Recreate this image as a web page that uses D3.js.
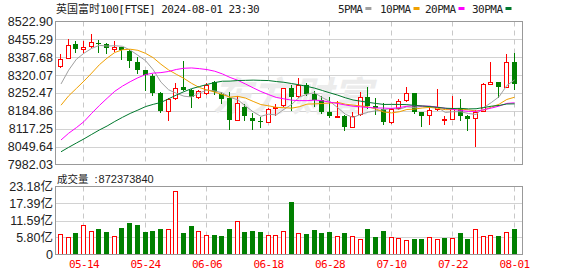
<!DOCTYPE html>
<html>
<head>
<meta charset="utf-8">
<script src="https://cdn.jsdelivr.net/npm/d3@7"></script>
<style>
  body { margin: 0; background: #fff; }
  svg { display: block; }
</style>
</head>
<body>
<div id="chart"></div>
<script>
var width = 578;
var height = 276;

var dates = ["05-09","05-10","05-13","05-14","05-15","05-16","05-17","05-20","05-21","05-22",
  "05-23","05-24","05-28","05-29","05-30","05-31","06-03","06-04","06-05","06-06",
  "06-07","06-10","06-11","06-12","06-13","06-14","06-17","06-18","06-19","06-20",
  "06-21","06-24","06-25","06-26","06-27","06-28","07-01","07-02","07-03","07-04",
  "07-05","07-08","07-09","07-10","07-11","07-12","07-15","07-16","07-17","07-18",
  "07-19","07-22","07-23","07-24","07-25","07-26","07-29","07-30","07-31","08-01"];
var opens = [8355,8386,8436,8418,8431,8442,8439,8419,8425,8413,
  8370,8339,8316,8252,8185,8233,8274,8265,8237,8251,
  8294,8249,8235,8151,8199,8157,8148,8144,8195,8207,
  8270,8241,8282,8248,8226,8179,8164,8164,8124,8173,
  8239,8204,8191,8142,8195,8226,8253,8180,8170,8191,
  8151,8156,8197,8166,8157,8186,8288,8293,8276,8368];
var highs = [8399,8458,8448,8451,8474,8454,8443,8448,8428,8418,
  8388,8341,8325,8257,8235,8292,8373,8267,8264,8290,
  8297,8258,8258,8242,8212,8176,8163,8195,8210,8273,
  8282,8310,8290,8260,8240,8236,8224,8170,8180,8257,
  8276,8233,8215,8195,8230,8274,8254,8182,8199,8266,
  8164,8241,8228,8170,8189,8290,8368,8294,8401,8405];
var lows = [8351,8384,8409,8407,8428,8408,8404,8413,8382,8351,
  8330,8264,8245,8181,8151,8231,8262,8201,8235,8249,
  8250,8215,8116,8150,8151,8117,8122,8142,8170,8205,
  8189,8238,8245,8203,8177,8161,8162,8114,8122,8171,
  8196,8172,8134,8138,8193,8224,8175,8126,8135,8189,
  8136,8155,8150,8111,8053,8185,8286,8239,8274,8267];
var closes = [8381,8434,8418,8428,8446,8437,8421,8425,8416,8375,
  8339,8319,8252,8183,8230,8273,8264,8237,8260,8283,
  8257,8229,8150,8216,8164,8147,8144,8191,8201,8270,
  8239,8282,8249,8226,8179,8164,8167,8124,8166,8239,
  8204,8195,8142,8191,8222,8251,8182,8167,8189,8201,
  8155,8197,8166,8156,8182,8286,8293,8276,8368,8285];
// 成交量, 亿
var volumes = [6.86,5.93,7.2,9.95,7.9,8.68,7.55,6.17,9.0,10.74,
  10.05,7.55,8.0,8.68,8.57,21.7,7.2,9.7,7.9,6.5,
  6.5,6.28,8.68,11.3,7.55,7.9,7.55,6.5,6.5,7.9,
  17.9,7.2,6.96,8.33,7.3,7.65,6.28,7.3,6.28,5.25,
  8.68,5.93,8.0,5.93,5.59,4.9,5.25,5.25,5.93,5.25,
  5.7,5.7,7.3,5.25,8.68,6.28,6.6,6.28,7.65,8.7237384];
// closes before the window, only needed to start the moving averages
var priorCloses = [7931,7932,7953,7935,7937,7975,7911,7943,7934,7961,
  7923,7996,7965,7820,7847,7877,7896,8024,8044,8040,
  8079,8139,8147,8144,8121,8172,8213,8313,8354];

var priceTicks = [8522.90,8455.29,8387.68,8320.07,8252.47,8184.86,8117.25,8049.64,7982.03];
var volumeTicks = [23.18,17.39,11.59,5.80,0];
var volumeTickLabels = ["23.18亿","17.39亿","11.59亿","5.80亿","0"];
var dateTicks = ["05-14","05-24","06-06","06-18","06-28","07-10","07-22","08-01"];
var maPeriods = [5,10,20,30];
var maNames = ["5PMA","10PMA","20PMA","30PMA"];
var maColors = ["#a0a0a0","#f0a000","#ff00ff","#00782d"];

var up_color = "#ff0000";
var down_color = "#008000";
var monoFont = "'DejaVu Sans Mono', monospace";
var cjkFont = "'Noto Sans CJK SC', sans-serif";
var numFont = "'Liberation Sans', Arial, sans-serif";

var left = 55.5, right = 522.5;
var mainTop = 21.5, mainBottom = 164.5;
var volTop = 186.5, volBottom = 254.5;

var data = dates.map(function(d, i){
  return {
    date: d, open: opens[i], high: highs[i], low: lows[i], close: closes[i],
    volume: volumes[i],
    prev: i ? closes[i-1] : priorCloses[priorCloses.length-1]
  };
});

var x = d3.scalePoint().domain(dates).range([60.5, 514]);
var y = d3.scaleLinear().domain([7982.03, 8522.90]).range([mainBottom, mainTop]);
var yv = d3.scaleLinear().domain([0, 23.18]).range([volBottom, volTop]);
var px = function(d){ return Math.floor(x(d)); };

var svg = d3.select("#chart").append("svg")
  .attr("width", width)
  .attr("height", height);

// grid
var grid = svg.append("g");
grid.selectAll(".hgrid").data(priceTicks.slice(1, -1)).enter().append("line")
  .attr("x1", left).attr("x2", right)
  .attr("y1", function(d){ return Math.round(y(d)) + 0.5; })
  .attr("y2", function(d){ return Math.round(y(d)) + 0.5; })
  .attr("stroke", "#d2d2d2");
grid.selectAll(".vhgrid").data(volumeTicks.slice(1, -1)).enter().append("line")
  .attr("x1", left).attr("x2", right)
  .attr("y1", function(d){ return Math.round(yv(d)) + 0.5; })
  .attr("y2", function(d){ return Math.round(yv(d)) + 0.5; })
  .attr("stroke", "#d2d2d2");
[[mainTop, mainBottom], [volTop, volBottom]].forEach(function(p){
  grid.append("g").selectAll("line").data(dateTicks).enter().append("line")
    .attr("x1", function(d){ return px(d) + 0.5; })
    .attr("x2", function(d){ return px(d) + 0.5; })
    .attr("y1", p[0]).attr("y2", p[1])
    .attr("stroke", "#c8c8c8")
    .attr("stroke-dasharray", "5,4");
});

// watermark
svg.append("text")
  .attr("x", 292).attr("y", 111)
  .attr("text-anchor", "middle")
  .attr("font-family", cjkFont)
  .attr("font-size", 40)
  .attr("font-weight", "bold")
  .attr("font-style", "italic")
  .attr("fill", "#ececec")
  .text("东方财富");

// candles
var candles = svg.append("g").selectAll("g")
  .data(data).enter().append("g");
candles.append("line")
  .attr("x1", function(d){ return px(d.date) + 0.5; })
  .attr("x2", function(d){ return px(d.date) + 0.5; })
  .attr("y1", function(d){ return Math.round(y(d.high)); })
  .attr("y2", function(d){ return Math.round(y(d.low)) + 1; })
  .attr("stroke", function(d){ return d.close >= d.open ? up_color : down_color; });
candles.append("rect")
  .attr("x", function(d){ return d.close >= d.open ? px(d.date) - 1.5 : px(d.date) - 2; })
  .attr("y", function(d){
    var t = Math.round(y(Math.max(d.open, d.close)));
    return d.close >= d.open ? t + 0.5 : t;
  })
  .attr("width", function(d){ return d.close >= d.open ? 4 : 5; })
  .attr("height", function(d){
    var h = Math.round(y(Math.min(d.open, d.close))) - Math.round(y(Math.max(d.open, d.close)));
    return Math.max(1, h);
  })
  .attr("fill", function(d){ return d.close >= d.open ? "#fff" : down_color; })
  .attr("stroke", function(d){ return d.close >= d.open ? up_color : "none"; });

// moving averages
var allCloses = priorCloses.concat(closes);
var line = d3.line()
  .x(function(d){ return x(d.date) + 0.5; })
  .y(function(d){ return y(d.value); });
maPeriods.forEach(function(p, k){
  var pts = data.map(function(d, i){
    var end = priorCloses.length + i + 1;
    return {date: d.date, value: d3.mean(allCloses.slice(end - p, end))};
  });
  svg.append("path")
    .attr("d", line(pts))
    .attr("fill", "none")
    .attr("stroke", maColors[k])
    .attr("stroke-width", 1);
});

// volume bars
svg.append("g").selectAll("rect")
  .data(data).enter().append("rect")
  .attr("x", function(d){ return d.close >= d.prev ? px(d.date) - 1.5 : px(d.date) - 2; })
  .attr("y", function(d){
    var t = Math.round(yv(d.volume));
    return d.close >= d.prev ? t + 0.5 : t;
  })
  .attr("width", function(d){ return d.close >= d.prev ? 4 : 5; })
  .attr("height", function(d){
    var t = Math.round(yv(d.volume));
    return d.close >= d.prev ? volBottom - t - 0.5 : volBottom + 0.5 - t;
  })
  .attr("fill", function(d){ return d.close >= d.prev ? "#fff" : down_color; })
  .attr("stroke", function(d){ return d.close >= d.prev ? up_color : "none"; });

// frames
[[mainTop, mainBottom], [volTop, volBottom]].forEach(function(p){
  svg.append("rect")
    .attr("x", left).attr("y", p[0])
    .attr("width", right - left).attr("height", p[1] - p[0])
    .attr("fill", "none")
    .attr("stroke", "#999");
});

// axes
var yAxis = svg.append("g")
  .attr("transform", "translate(" + (left - 0.5) + ",0)")
  .call(d3.axisLeft(y).tickValues(priceTicks).tickFormat(d3.format(".2f")).tickSize(0).tickPadding(2));
var vAxis = svg.append("g")
  .attr("transform", "translate(" + (left - 0.5) + ",0)")
  .call(d3.axisLeft(yv).tickValues(volumeTicks)
    .tickFormat(function(d, i){ return volumeTickLabels[i]; })
    .tickSize(0).tickPadding(2));
[yAxis, vAxis].forEach(function(a){
  a.select(".domain").remove();
  a.selectAll("text")
    .attr("font-family", numFont + ", " + cjkFont)
    .attr("font-size", 12.5)
    .attr("fill", "#222");
});

var xAxis = svg.append("g")
  .attr("transform", "translate(0," + volBottom + ")")
  .call(d3.axisBottom(x).tickValues(dateTicks).tickSize(0).tickPadding(6));
xAxis.select(".domain").remove();
xAxis.selectAll("text")
  .attr("font-family", monoFont)
  .attr("font-size", 11)
  .attr("letter-spacing", -0.6)
  .attr("fill", up_color);

// title
var title = svg.append("text")
  .attr("x", 56).attr("y", 12.5)
  .attr("fill", "#222");
title.append("tspan")
  .attr("font-family", cjkFont).attr("font-size", 11)
  .text("英国富时");
title.append("tspan")
  .attr("font-family", monoFont).attr("font-size", 11).attr("letter-spacing", -0.5)
  .text("100[FTSE] 2024-08-01 23:30");

// legend
var legendX = [338, 380, 425, 472];
var legend = svg.append("g").selectAll("g")
  .data(maNames).enter().append("g")
  .attr("transform", function(d, i){ return "translate(" + legendX[i] + ",0)"; });
legend.append("text")
  .attr("y", 12.5)
  .attr("font-family", monoFont).attr("font-size", 11).attr("letter-spacing", -0.5)
  .attr("fill", "#222")
  .text(function(d){ return d; });
legend.append("rect")
  .attr("x", function(d){ return d.length * 6.1 + 3; })
  .attr("y", 7)
  .attr("width", 6).attr("height", 3)
  .attr("fill", function(d, i){ return maColors[i]; });

// volume caption
var cap = svg.append("text")
  .attr("x", 57).attr("y", 182.5)
  .attr("fill", "#222");
cap.append("tspan")
  .attr("font-family", cjkFont).attr("font-size", 10.5)
  .text("成交量");
cap.append("tspan")
  .attr("font-family", numFont).attr("font-size", 11).attr("dx", 6)
  .text(":");
cap.append("tspan")
  .attr("font-family", numFont).attr("font-size", 11).attr("dx", 1)
  .text(Math.round(volumes[volumes.length-1] * 1e8));
</script>
</body>
</html>
